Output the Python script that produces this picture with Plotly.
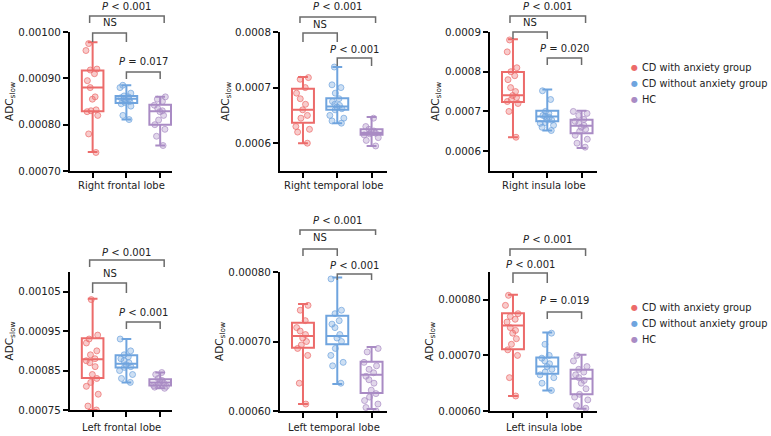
import plotly.graph_objects as go

W, H = 771, 436

groups = ["CD with anxiety group", "CD without anxiety group", "HC"]
line_colors = ["#EC6B6A", "#6FA4DE", "#A98BC4"]
dot_fill = ["rgba(236,107,106,0.35)", "rgba(111,164,222,0.35)", "rgba(169,139,196,0.35)"]
dot_edge = ["rgba(236,107,106,0.7)", "rgba(111,164,222,0.7)", "rgba(169,139,196,0.7)"]

regions = ["Right frontal lobe", "Right temporal lobe", "Right insula lobe",
           "Left frontal lobe", "Left temporal lobe", "Left insula lobe"]

# box stats per group: [min, q1, median, q3, max]
right_frontal_stats = [[0.000741, 0.000829, 0.000880, 0.000917, 0.000978],
                       [0.000811, 0.000847, 0.000856, 0.000862, 0.000885],
                       [0.000755, 0.000800, 0.000829, 0.000843, 0.000860]]
right_temporal_stats = [[0.000600, 0.000637, 0.000660, 0.000698, 0.000719],
                        [0.000636, 0.000660, 0.000666, 0.000681, 0.000737],
                        [0.000595, 0.000615, 0.000619, 0.000625, 0.000647]]
right_insula_stats = [[0.000635, 0.000724, 0.000741, 0.000799, 0.000882],
                      [0.000652, 0.000675, 0.000687, 0.000702, 0.000755],
                      [0.000608, 0.000645, 0.000664, 0.000679, 0.000702]]
left_frontal_stats = [[0.000750, 0.000831, 0.000879, 0.000932, 0.001032],
                      [0.000820, 0.000858, 0.000867, 0.000889, 0.000930],
                      [0.000805, 0.000812, 0.000820, 0.000828, 0.000845]]
left_temporal_stats = [[0.000610, 0.000691, 0.000708, 0.000727, 0.000754],
                       [0.000639, 0.000696, 0.000708, 0.000737, 0.000792],
                       [0.000603, 0.000626, 0.000652, 0.000671, 0.000692]]
left_insula_stats = [[0.000627, 0.000711, 0.000754, 0.000776, 0.000809],
                     [0.000637, 0.000667, 0.000680, 0.000696, 0.000741],
                     [0.000604, 0.000630, 0.000658, 0.000674, 0.000701]]

# individual subjects per group
right_frontal_points = [
    [0.000975, 0.00096, 0.00092, 0.000918, 0.00091, 0.000895, 0.00088, 0.00086,
     0.000855, 0.00083, 0.000832, 0.000828, 0.00082, 0.00078, 0.00074],
    [0.000885, 0.00088, 0.000868, 0.000862, 0.00086, 0.000858, 0.000856, 0.000855,
     0.000852, 0.00085, 0.000848, 0.000845, 0.00084, 0.00082, 0.000811],
    [0.00086, 0.000855, 0.00085, 0.000842, 0.000835, 0.00083, 0.000828, 0.00082,
     0.00081, 0.0008, 0.00079, 0.000775, 0.000755]]
right_temporal_points = [
    [0.000718, 0.000715, 0.0007, 0.00069, 0.00068, 0.00067, 0.00066, 0.00065,
     0.000645, 0.00063, 0.000625, 0.00062, 0.0006],
    [0.000737, 0.000705, 0.0007, 0.00069, 0.00068, 0.000675, 0.00067, 0.000668,
     0.000665, 0.000662, 0.00066, 0.00065, 0.000645, 0.00064, 0.000636],
    [0.000645, 0.00063, 0.000625, 0.000622, 0.00062, 0.000618, 0.000617, 0.000615,
     0.00061, 0.000605, 0.000595]]
right_insula_points = [
    [0.00088, 0.00085, 0.00081, 0.0008, 0.00079, 0.00078, 0.00076, 0.00075,
     0.00074, 0.000735, 0.00073, 0.000725, 0.00072, 0.0007, 0.000635],
    [0.000752, 0.00073, 0.0007, 0.000695, 0.00069, 0.000688, 0.000685, 0.00068,
     0.000678, 0.000672, 0.00067, 0.000665, 0.00066, 0.000652],
    [0.0007, 0.000695, 0.00069, 0.00068, 0.000675, 0.00067, 0.000665, 0.00066,
     0.000655, 0.00065, 0.00064, 0.00063, 0.00062, 0.00061]]
left_frontal_points = [
    [0.00103, 0.00094, 0.00093, 0.00092, 0.0009, 0.00089, 0.00088, 0.000875,
     0.00087, 0.00086, 0.00084, 0.00083, 0.00082, 0.00081, 0.00079, 0.00076, 0.00075],
    [0.00093, 0.0009, 0.00089, 0.000885, 0.00088, 0.000875, 0.00087, 0.000865,
     0.00086, 0.000858, 0.00085, 0.00084, 0.00083, 0.00082],
    [0.000845, 0.00084, 0.00083, 0.000825, 0.00082, 0.000818, 0.000815, 0.000812,
     0.00081, 0.000808, 0.000805]]
left_temporal_points = [
    [0.000752, 0.000745, 0.00073, 0.00072, 0.000715, 0.00071, 0.000705, 0.0007,
     0.000695, 0.00069, 0.00068, 0.00064, 0.00061],
    [0.00079, 0.000745, 0.00074, 0.00073, 0.000725, 0.00072, 0.00071, 0.000705,
     0.0007, 0.00069, 0.00068, 0.00067, 0.000665, 0.00064],
    [0.00069, 0.000685, 0.00067, 0.000665, 0.00066, 0.000655, 0.00065, 0.000645,
     0.00064, 0.00063, 0.000625, 0.00062, 0.000615, 0.00061, 0.000605, 0.0006]]
left_insula_points = [
    [0.000808, 0.00079, 0.000775, 0.00077, 0.000765, 0.00076, 0.00075, 0.000745,
     0.00074, 0.00073, 0.00072, 0.00071, 0.0007, 0.00066, 0.000627],
    [0.00074, 0.00072, 0.0007, 0.000695, 0.00069, 0.000685, 0.00068, 0.000675,
     0.00067, 0.000665, 0.00066, 0.00065, 0.000637],
    [0.0007, 0.00069, 0.00068, 0.000675, 0.00067, 0.000665, 0.00066, 0.000655,
     0.00065, 0.00064, 0.00063, 0.000625, 0.00062, 0.00061, 0.000605]]

# y axis setup per panel
y_ranges = [[0.0007, 0.001], [0.00055, 0.0008], [0.00055, 0.0009],
            [0.00075, 0.0011], [0.0006, 0.0008], [0.0006, 0.00085]]
y_ticks = [[0.0007, 0.0008, 0.0009, 0.001],
           [0.0006, 0.0007, 0.0008],
           [0.0006, 0.0007, 0.0008, 0.0009],
           [0.00075, 0.00085, 0.00095, 0.00105],
           [0.0006, 0.0007, 0.0008],
           [0.0006, 0.0007, 0.0008]]
y_formats = [".5f", ".4f", ".4f", ".5f", ".5f", ".5f"]

# comparisons: (group a, group b, label)
comparisons = [
    [(0, 2, "<i>P</i> &lt; 0.001"), (0, 1, "NS"), (1, 2, "<i>P</i> = 0.017")],
    [(0, 2, "<i>P</i> &lt; 0.001"), (0, 1, "NS"), (1, 2, "<i>P</i> &lt; 0.001")],
    [(0, 2, "<i>P</i> &lt; 0.001"), (0, 1, "NS"), (1, 2, "<i>P</i> = 0.020")],
    [(0, 2, "<i>P</i> &lt; 0.001"), (0, 1, "NS"), (1, 2, "<i>P</i> &lt; 0.001")],
    [(0, 2, "<i>P</i> &lt; 0.001"), (0, 1, "NS"), (1, 2, "<i>P</i> &lt; 0.001")],
    [(0, 2, "<i>P</i> &lt; 0.001"), (0, 1, "<i>P</i> &lt; 0.001"), (1, 2, "<i>P</i> = 0.019")],
]

all_stats = [right_frontal_stats, right_temporal_stats, right_insula_stats,
             left_frontal_stats, left_temporal_stats, left_insula_stats]
all_points = [right_frontal_points, right_temporal_points, right_insula_points,
              left_frontal_points, left_temporal_points, left_insula_points]

# layout in pixels: (left, right, top, bottom) of each axes box
panel_px = [(70, 172, 32, 171), (280, 387, 32, 171), (490, 597, 32, 171),
            (70, 172, 272, 410), (280, 387, 272, 411), (490, 597, 272, 411)]
x_ranges = [[-0.67, 2.35], [-0.67, 2.45], [-0.67, 2.45],
            [-0.67, 2.35], [-0.67, 2.45], [-0.67, 2.45]]
# bracket bar / drop / text heights in pixels for each comparison
bracket_px = [
    [(16, 7, 6), (33, 9, 23), (72, 7, 61)],
    [(17, 6, 6), (33, 9, 24), (58, 8, 49)],
    [(16, 7, 6), (32, 7, 23), (58, 7, 48)],
    [(260, 7, 252), (283, 10, 273), (322, 7, 312)],
    [(230, 5, 220), (249, 7, 238), (274, 6, 265)],
    [(249, 7, 239), (273, 10, 264), (312, 7, 300)],
]
title_px = [185, 185, 185, 427, 427, 427]


def fx(px):
    return px / W


def fy(py):
    return 1 - py / H


FONT = "DejaVu Sans"
fig = go.Figure()
shapes = []
annotations = []

for k in range(6):
    xa = "x" if k == 0 else f"x{k + 1}"
    ya = "y" if k == 0 else f"y{k + 1}"
    for g in range(3):
        pts = all_points[k][g]
        fig.add_trace(go.Box(
            x=[g] * len(pts), y=pts, xaxis=xa, yaxis=ya,
            boxpoints="all", jitter=0.8, pointpos=0, width=0.64,
            line=dict(width=0, color="rgba(0,0,0,0)"), fillcolor="rgba(0,0,0,0)",
            marker=dict(size=6, color=dot_fill[g], line=dict(width=1, color=dot_edge[g])),
            showlegend=False, hoverinfo="y"))
        s = all_stats[k][g]
        fig.add_trace(go.Box(
            x=[g], lowerfence=[s[0]], q1=[s[1]], median=[s[2]], q3=[s[3]], upperfence=[s[4]],
            xaxis=xa, yaxis=ya, width=0.64, whiskerwidth=0.45, boxpoints=False,
            line=dict(width=2, color=line_colors[g]), fillcolor="rgba(255,255,255,0)",
            name=groups[g], showlegend=False))

    left, right, top, bottom = panel_px[k]
    xr = x_ranges[k]
    fig.layout[xa.replace("x", "xaxis")] = dict(
        domain=[fx(left), fx(right)], anchor=ya, range=xr,
        tickvals=[0, 1, 2], showticklabels=False, ticks="outside", ticklen=5,
        tickwidth=2, tickcolor="black", showline=True, linewidth=2, linecolor="black",
        showgrid=False, zeroline=False)
    fig.layout[ya.replace("y", "yaxis")] = dict(
        domain=[fy(bottom), fy(top)], anchor=xa, range=y_ranges[k],
        tickvals=y_ticks[k], tickformat=y_formats[k], ticks="outside", ticklen=5,
        tickwidth=2, tickcolor="black", showline=True, linewidth=2, linecolor="black",
        showgrid=False, zeroline=False, tickfont=dict(size=10.3, color="#222"),
        title=dict(text="ADC<sub>slow</sub>", standoff=3, font=dict(size=10.5, color="#222")))

    # region name under each panel
    annotations.append(dict(text=regions[k], x=fx((left + right) / 2), y=fy(title_px[k]),
                            xref="paper", yref="paper", showarrow=False,
                            xanchor="center", yanchor="middle",
                            font=dict(size=10, color="#222")))

    def cat_px(i):
        return left + (i - xr[0]) / (xr[1] - xr[0]) * (right - left)

    for (a, b, label), (bar, drop, ty) in zip(comparisons[k], bracket_px[k]):
        x1, x2 = cat_px(a), cat_px(b)
        if b - a == 2:
            x1, x2 = x1 - 3, x2 + 4
        path = (f"M {fx(x1)},{fy(bar + drop)} L {fx(x1)},{fy(bar)} "
                f"L {fx(x2)},{fy(bar)} L {fx(x2)},{fy(bar + drop)}")
        shapes.append(dict(type="path", path=path, xref="paper", yref="paper",
                           line=dict(color="#6b6b6b", width=1.5)))
        annotations.append(dict(text=label, x=fx((x1 + x2) / 2), y=fy(ty),
                                xref="paper", yref="paper", showarrow=False,
                                xanchor="center", yanchor="middle",
                                font=dict(size=10, color="#222")))

# legends (one per row): coloured dot + label
for row_y in [67, 307]:
    for g in range(3):
        annotations.append(dict(
            text="●", x=fx(634), y=fy(row_y + 16 * g), xref="paper", yref="paper",
            showarrow=False, xanchor="center", yanchor="middle",
            font=dict(size=8, color=line_colors[g])))
        annotations.append(dict(
            text=groups[g], x=fx(640), y=fy(row_y + 16 * g), xref="paper", yref="paper",
            showarrow=False, xanchor="left", yanchor="middle",
            font=dict(size=9.8, color="#222")))

fig.update_layout(
    width=W, height=H, template="none",
    margin=dict(l=0, r=0, t=0, b=0),
    paper_bgcolor="white", plot_bgcolor="white",
    font=dict(family=FONT, size=10, color="#222"),
    boxmode="overlay", showlegend=False,
    shapes=shapes, annotations=annotations)

fig.write_html("out.html", config={"displayModeBar": False},
               post_script="document.body.style.margin='0';")
